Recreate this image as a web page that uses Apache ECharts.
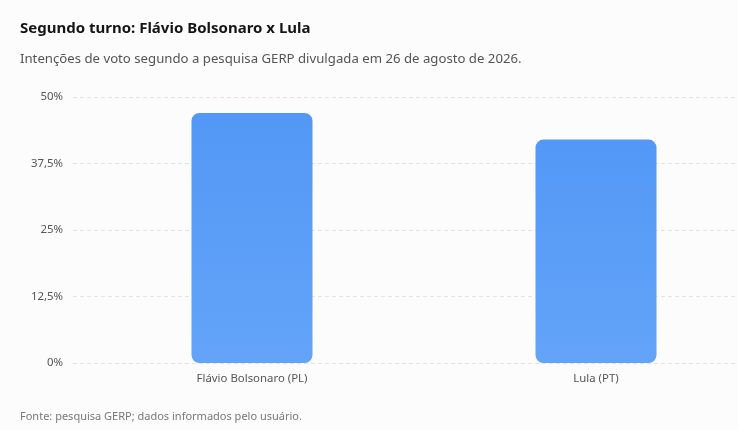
<!DOCTYPE html>
<html>
<head>
<meta charset="utf-8">
<script src="https://cdn.jsdelivr.net/npm/echarts@6/dist/echarts.min.js"></script>
<style>
html,body{margin:0;padding:0;background:#fcfcfc;overflow:hidden;}
#c{width:768px;height:430px;}
</style>
</head>
<body>
<div id="c"></div>
<script>
const categories = ['Flávio Bolsonaro (PL)', 'Lula (PT)'];
const values = [47, 42];
const yTicks = [0, 12.5, 25, 37.5, 50];

const FONT = '"Noto Sans", "Open Sans", sans-serif';
const chart = echarts.init(document.getElementById('c'));
const fmt = v => String(v).replace('.', ',') + '%';
chart.setOption({
  backgroundColor: '#fcfcfc',
  animation: false,
  title: [
    { text: 'Segundo turno: Flávio Bolsonaro x Lula', left: 20, top: 21, padding: 0,
      textStyle: { fontFamily: FONT, fontSize: 15, fontWeight: 'bold', color: '#151515' } },
    { text: 'Intenções de voto segundo a pesquisa GERP divulgada em 26 de agosto de 2026.', left: 20, top: 53, padding: 0,
      textStyle: { fontFamily: FONT, fontSize: 13.2, fontWeight: 'normal', color: '#555' } },
    { text: 'Fonte: pesquisa GERP; dados informados pelo usuário.', left: 20, top: 411, padding: 0,
      textStyle: { fontFamily: FONT, fontSize: 11, fontWeight: 'normal', color: '#777' } }
  ],
  grid: [
    { left: 73, right: 0, top: 97, bottom: 67 },
    { left: 80, right: 0, top: 97, bottom: 67 }
  ],
  xAxis: [
    { type: 'category', gridIndex: 0, data: categories, show: false },
    { type: 'category', gridIndex: 1, data: categories,
      axisLine: { show: false }, axisTick: { show: false },
      axisLabel: { fontFamily: FONT, fontSize: 11.4, color: '#555', margin: 10 } }
  ],
  yAxis: [
    { type: 'value', gridIndex: 0, min: 0, max: 50, interval: 12.5,
      axisLine: { show: false }, axisTick: { show: false },
      axisLabel: { fontFamily: FONT, fontSize: 11.4, color: '#555', margin: 10,
        formatter: v => yTicks.includes(v) ? fmt(v) : '' },
      splitLine: { show: true, lineStyle: { color: '#e3e3e3', type: [4, 3], width: 1 } } },
    { type: 'value', gridIndex: 1, min: 0, max: 50, interval: 12.5, show: false,
      splitLine: { show: false } }
  ],
  series: [{
    type: 'bar',
    xAxisIndex: 1, yAxisIndex: 1,
    data: values,
    barWidth: 121,
    itemStyle: {
      borderRadius: 8,
      color: new echarts.graphic.LinearGradient(0, 0, 0, 1, [
        { offset: 0, color: '#5398f6' },
        { offset: 1, color: '#63a4f9' }
      ])
    }
  }]
});
</script>
</body>
</html>
